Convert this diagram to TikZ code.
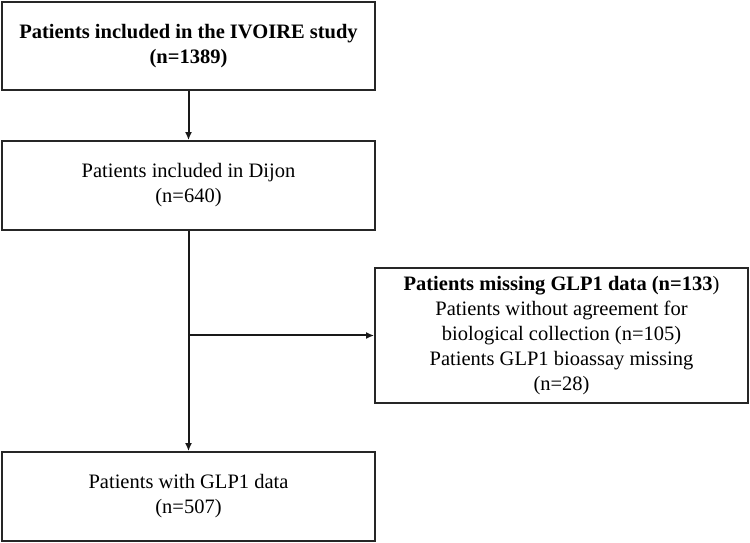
\documentclass[tikz,border=0pt]{standalone}
\usepackage{fontspec}
\setmainfont{Liberation Serif}
\usetikzlibrary{arrows.meta}
\begin{document}
\begin{tikzpicture}[x=1pt,y=1pt,
  box/.style={draw=black!85,line width=1.8pt,minimum width=373pt,align=center,
    font=\fontsize{20.5}{25}\selectfont,inner sep=0pt},
  conn/.style={line width=2pt,draw=black!90,-{Latex[length=8pt,width=7pt]}}]
\useasboundingbox (0,0) rectangle (750,543);
\node[box,minimum height=88pt] (b1) at (188.5,497) {\textbf{Patients included in the IVOIRE study}\\\textbf{(n=1389)}};
\node[box,minimum height=89pt] (b2) at (188.5,357.5) {Patients included in Dijon\\(n=640)};
\node[box,minimum height=89pt] (b4) at (188.5,46.5) {Patients with GLP1 data\\(n=507)};
\node[box,minimum height=135pt] (b3) at (561.5,207.5) {\textbf{Patients missing GLP1 data (n=133})\\Patients without agreement for\\biological collection (n=105)\\Patients GLP1 bioassay missing\\(n=28)};
\coordinate (j) at (b2.south |- b3.west);
\draw[conn] (b1) -- (b2);
\draw[conn] (b2) -- (b4);
\draw[conn] (j) -- (b3.west);
\end{tikzpicture}
\end{document}
